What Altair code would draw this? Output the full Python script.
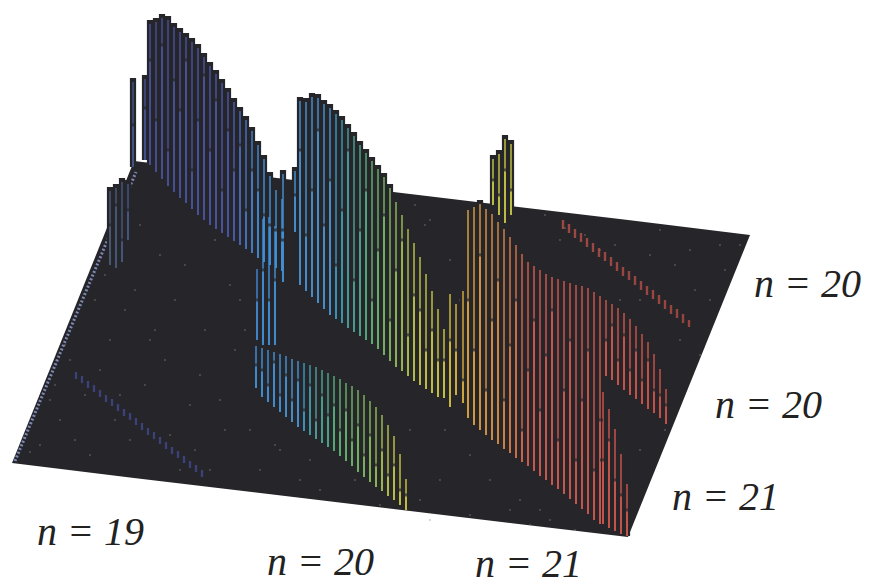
import altair as alt
import pandas as pd

# Values, in picture units (x across, y down)
FLOOR_X = [12, 134, 628, 750]
FLOOR_BACK = [463, 161, 220, 235]
FLOOR_FRONT = [463, 478, 537, 235]

EDGE_X = [15, 136]
EDGE_Y = [461, 172]

R1_X = [150,156,162,168,174,180,186,192,198,204,210,216,222,228,234,240,246,252,258,264,270,276,282]
R1_TOP = [20,18,14,16,23,28,33,38,44,53,62,70,79,88,98,107,116,127,141,155,172,186,195]
R1_BASE = [165,172,179,186,192,198,203,209,215,220,225,229,233,237,241,245,249,253,258,262,265,268,271]
R1_GAP = [60,120,45,150,80,110,60,170,120,75,150,100,190,130,170,145,210,170,190,215,225,230,240]

CL_X = [110,116,122,128,133,145,257,263,269,275,283,295]
CL_TOP = [187,184,178,180,78,75,265,215,213,222,170,167]
CL_BASE = [265,268,262,240,167,160,340,345,345,345,282,232]
CL_GAP = [225,205,240,210,125,108,300,270,300,280,230,195]

R2_X = [300,306,312,318,324,330,336,342,348,354,360,366,372,378,384,390,396,402,408,414,420,426,432,438]
R2_TOP = [97,98,93,94,100,104,110,116,124,132,141,149,157,165,173,184,198,211,225,239,253,270,287,305]
R2_BASE = [285,291,297,303,309,315,319,323,328,332,336,340,344,349,355,361,367,371,376,381,385,389,393,397]
R2_GAP = [150,235,190,130,225,180,265,210,150,280,230,190,300,250,215,320,270,240,335,295,310,350,330,360]

R3_X = [256,262,268,274,280,286,292,298,304,310,316,322,328,334,340,346,352,358,364,370,376,382,388,394,400,406]
R3_TOP = [342,344,346,348,350,352,355,357,359,361,363,366,369,372,375,379,382,386,391,397,403,411,421,432,450,475]
R3_BASE = [388,397,402,407,412,417,422,427,431,435,439,443,447,451,456,461,466,472,477,482,487,491,496,500,505,510]
R3_GAP = [365,370,385,362,395,375,400,380,410,385,420,395,415,405,430,410,440,425,455,435,465,450,475,465,490,495]
R3_HUE = [262,265,270,280,290,300,312,325,335,345,350,356,362,368,372,376,380,384,388,392,398,404,412,420,430,440]

MID_X = [444,450,456,463]
MID_TOP = [325,290,300,287]
MID_BASE = [398,407,395,403]
MID_GAP = [360,340,350,380]

PEAK_X = [493,499,505,511]
PEAK_TOP = [155,150,135,140]
PEAK_BASE = [205,215,223,215]
PEAK_GAP = [180,195,170,190]
PEAK_HUE = [425,430,435,430]

R4_X = [468,474,480,486,492,498,504,510,516,522,528,534,540,546,552,558,564,570,576,582,588,594,600]
R4_TOP = [206,203,200,205,210,218,225,233,241,250,258,262,266,270,273,275,277,279,281,282,284,288,292]
R4_BASE = [418,425,430,435,440,444,449,453,458,462,466,471,476,480,485,489,494,499,504,509,514,520,524]
R4_GAP = [300,350,255,390,320,280,400,345,300,430,370,320,410,355,310,440,390,340,460,400,350,470,420]

R5_X = [606,612,618,624,630,636,642,648,654,660,666]
R5_TOP = [296,300,304,309,315,322,330,338,350,365,385]
R5_BASE = [376,380,385,390,395,399,404,409,413,418,424]
R5_GAP = [340,325,360,335,370,350,380,360,390,395,405]

R6_X = [603,609,615,621,627]
R6_TOP = [388,405,425,450,480]
R6_BASE = [524,528,531,534,536]
R6_GAP = [460,440,480,495,510]

R7_X = [563,569,575,581,587,593,599,605,611,617,623,629,635,641,647,653,659,665,671,677,683,689]
R7_TOP = [220,224,229,233,238,243,248,252,257,262,267,271,276,281,286,290,295,300,305,309,314,320]
R7_BASE = [229,233,238,242,247,252,257,261,266,271,276,280,285,290,295,299,304,309,314,318,323,327]

R0_X = [76,82,88,94,100,106,112,118,124,130,136,142,148,154,160,166,172,178,184,190,196,202]
R0_TOP = [372,376,381,385,390,395,399,404,409,413,418,423,428,432,437,442,447,451,456,461,465,470]
R0_BASE = [379,383,388,392,397,402,406,411,416,420,425,430,435,439,444,449,454,458,463,468,472,477]

SPECK_X = [60,85,110,40,150,175,205,230,245,190,130,95,70,220,160,120,300,340,280,260,320,380,430,470,510,550,
           600,690,720,710,740,660,640,680,700,440,470,410,380,350,560,620,600,520,460,640,665,430,300,250,210,
           55,75,100,125,140,165,185,200,215,235,90,115,145,170,195,225,240,50,30,65,105,135,155,180,
           275,310,355,395,420,445,490,530,575,610,415,400,425,450,480,675,695,725,650,615,585,545,505,540,565]
SPECK_Y = [420,395,340,445,340,300,330,285,330,405,440,300,360,400,255,395,370,400,450,470,490,505,520,515,510,520,
           250,250,245,300,245,230,300,340,355,480,455,430,210,205,240,300,360,500,300,450,430,220,480,430,470,
           385,440,370,310,225,360,265,375,240,350,455,420,385,435,450,430,300,400,452,345,275,290,330,470,
           445,460,480,455,500,430,480,525,530,505,205,215,225,260,270,265,290,270,255,245,235,215,218,510,228]

LABELS = ["n = 20", "n = 20", "n = 21", "n = 21", "n = 19", "n = 20"]
LABEL_X = [754, 715, 672, 475, 37, 267]
LABEL_Y = [297, 418, 510, 577, 545, 575]

COLOR_DOMAIN = [110,150,230,262,330,350,372,395,415,445,470,500,530,690]
COLOR_RANGE = ["#4a5a72","#464f95","#4a55a5","#3f8fd8","#4a92cc","#4f9c98","#5fb070","#8ab858","#bcc248","#ccc440",
               "#d8a040","#d08a48","#d05a50","#c85048"]

DARK = "#25252a"

rows = []
for xs, ts, bs, gs, hs in [
    (R1_X, R1_TOP, R1_BASE, R1_GAP, R1_X),
    (CL_X, CL_TOP, CL_BASE, CL_GAP, CL_X),
    (R2_X, R2_TOP, R2_BASE, R2_GAP, R2_X),
    (PEAK_X, PEAK_TOP, PEAK_BASE, PEAK_GAP, PEAK_HUE),
    (MID_X, MID_TOP, MID_BASE, MID_GAP, MID_X),
    (R4_X, R4_TOP, R4_BASE, R4_GAP, R4_X),
    (R5_X, R5_TOP, R5_BASE, R5_GAP, R5_X),
    (R6_X, R6_TOP, R6_BASE, R6_GAP, R6_X),
    (R3_X, R3_TOP, R3_BASE, R3_GAP, R3_HUE),
]:
    for x, t, b, g, h in zip(xs, ts, bs, gs, hs):
        rows.append({"x": x, "top": t, "base": b, "gap": g, "hue": h})
bars = pd.DataFrame(rows)
strip_rows = []
for xs, ts, bs in [(R7_X, R7_TOP, R7_BASE), (R0_X, R0_TOP, R0_BASE)]:
    for x, t, b in zip(xs, ts, bs):
        strip_rows.append({"x": x, "top": t, "base": b, "hue": x if x > 300 else 150})
strips = pd.DataFrame(strip_rows)

X = alt.Scale(domain=[8, 862])
Y = alt.Scale(domain=[586, 8])
ex = alt.X("x:Q", scale=X, axis=None)
ey = alt.Y("top:Q", scale=Y, axis=None)
ecolor = alt.Color("hue:Q", scale=alt.Scale(domain=COLOR_DOMAIN, range=COLOR_RANGE), legend=None)

floor = alt.Chart(pd.DataFrame({"x": FLOOR_X, "top": FLOOR_BACK, "front": FLOOR_FRONT})).mark_area(
    color=DARK, interpolate="linear"
).encode(ex, ey, y2="front:Q")

speck = alt.Chart(pd.DataFrame({"x": SPECK_X, "top": SPECK_Y})).mark_circle(
    size=2.5, color="#8f8f8c", opacity=0.8
).encode(ex, ey)

edge = alt.Chart(pd.DataFrame({"x": EDGE_X, "top": EDGE_Y})).mark_line(
    color="#7d88b4", strokeWidth=3, strokeDash=[2, 2]
).encode(ex, ey)

strip_base = alt.Chart(strips).mark_rule(strokeWidth=2.4, opacity=0.7).encode(ex, ey, y2="base:Q", color=ecolor)

dark = alt.Chart(bars).mark_rule(strokeWidth=6.2, color=DARK).encode(ex, ey, y2="base:Q")
upper = alt.Chart(bars).transform_calculate(start="datum.top + 4").mark_rule(strokeWidth=2, opacity=0.72).encode(
    ex, alt.Y("start:Q", scale=Y, axis=None), y2="gap:Q", color=ecolor
)
lower = alt.Chart(bars).mark_rule(strokeWidth=2, opacity=0.95).encode(
    ex, alt.Y("gap:Q", scale=Y, axis=None), y2="base:Q", color=ecolor
)
gaps = alt.Chart(bars).mark_tick(color=DARK, thickness=3, size=6, orient="horizontal").encode(
    ex, alt.Y("gap:Q", scale=Y, axis=None)
)
text = alt.Chart(pd.DataFrame({"x": LABEL_X, "top": LABEL_Y, "label": LABELS})).mark_text(
    font="Liberation Serif", fontStyle="italic", fontSize=40, align="left", baseline="alphabetic", color="#222222"
).encode(ex, ey, text="label:N")

chart = alt.layer(floor, speck, edge, strip_base, dark, upper, lower, gaps, text).properties(
    width=854, height=578, padding=0, background="white",
    autosize=alt.AutoSizeParams(type="none"),
).configure_view(stroke=None)

chart.save("out.html", embed_options={"renderer": "svg", "actions": False})
